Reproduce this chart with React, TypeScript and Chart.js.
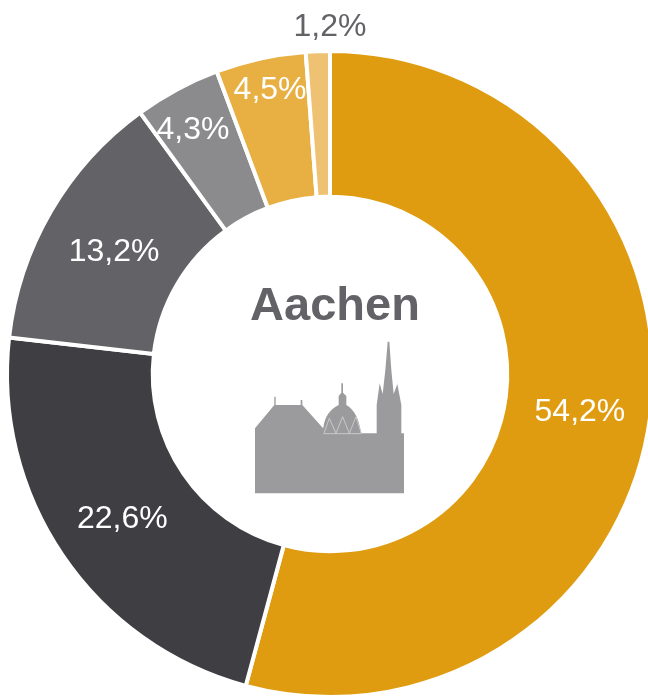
import React, { useEffect, useRef } from "react";
import { Chart, registerables } from "chart.js";

Chart.register(...registerables);

const categories = ["A", "B", "C", "D", "E", "F"];
const shares = [54.2, 22.6, 13.2, 4.3, 4.5, 1.2];
const tickLabels = ["54,2%", "22,6%", "13,2%", "4,3%", "4,5%", "1,2%"];
const colors = ["#e09c10", "#3f3e43", "#636266", "#8b8b8d", "#e8af42", "#eec272"];
const labelColors = ["#ffffff", "#ffffff", "#ffffff", "#ffffff", "#ffffff", "#636266"];
const centerTitle = "Aachen";

const FONT = '"Liberation Sans", Arial, sans-serif';
// radial position and small angular shift of each label
const labelRadius = [252.5, 252, 249, 281.6, 292, 349];
const labelAngleShift = [0.011, -0.005, -0.006, -0.015, 0.01, 0.0377];

const labelsPlugin = {
  id: "sliceLabels",
  afterDatasetsDraw(chart: any) {
    const { ctx } = chart;
    const arcs = chart.getDatasetMeta(0).data;
    ctx.save();
    ctx.textAlign = "center";
    ctx.textBaseline = "middle";
    ctx.font = `32px ${FONT}`;
    arcs.forEach((arc: any, i: number) => {
      const mid = (arc.startAngle + arc.endAngle) / 2 + labelAngleShift[i];
      ctx.fillStyle = labelColors[i];
      ctx.fillText(
        tickLabels[i],
        arc.x + Math.cos(mid) * labelRadius[i],
        arc.y + Math.sin(mid) * labelRadius[i] + 2
      );
    });
    const c = arcs[0];
    ctx.font = `bold 47px ${FONT}`;
    ctx.fillStyle = "#636266";
    ctx.textBaseline = "alphabetic";
    ctx.fillText(centerTitle, c.x + 5, c.y - 54);
    ctx.restore();
  },
};

export default function App() {
  const ref = useRef<HTMLCanvasElement>(null);
  useEffect(() => {
    document.body.style.margin = "0";
    const chart = new Chart(ref.current!, {
      type: "doughnut",
      data: {
        labels: categories,
        datasets: [
          {
            data: shares,
            backgroundColor: colors,
            borderColor: "#ffffff",
            borderWidth: 4,
            borderAlign: "center",
          } as any,
        ],
      },
      options: {
        responsive: false,
        animation: false,
        radius: 323,
        cutout: 180,
        plugins: { legend: { display: false }, tooltip: { enabled: false } },
      } as any,
      plugins: [labelsPlugin],
    });
    return () => chart.destroy();
  }, []);
  return (
    <div style={{ position: "fixed", left: 0, top: 0, width: 648, height: 696, overflow: "hidden", background: "#fff" }}>
      <canvas ref={ref} width={660} height={748} style={{ position: "absolute", left: 0, top: 0 }} />
      <svg
        style={{ position: "absolute", left: 230, top: 270 }}
        width={200}
        height={240}
        viewBox="0 0 600 720"
      >
        <path
          fill="#9b9b9d"
          d="M75 670V475L133 405V380H137V405H212V390H217V405L278 473H280C284 440 300 418 326 405V378L334 368V340H339V368L349 378V405C372 418 388 445 393 490H440V405L449 340L458 372L466 300L473 215H478L484 300L491 372L502 342L514 405V490H522V670Z"
        />
        <path
          fill="none"
          stroke="#c9c9ca"
          strokeWidth={3}
          d="M280 491H394M282 490L298 445L318 490L338 440L358 490L378 440L394 490"
        />
      </svg>
    </div>
  );
}
